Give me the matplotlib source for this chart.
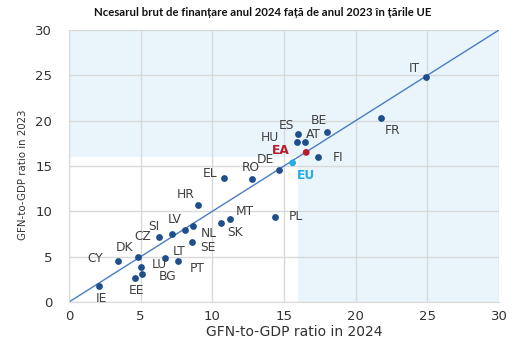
import matplotlib
matplotlib.use("Agg")
import matplotlib.pyplot as plt
from matplotlib.patches import Rectangle

countries = ["IE", "CY", "DK", "LU", "BG", "EE", "CZ", "SI", "LV", "LT", "PT",
             "NL", "SE", "HR", "MT", "SK", "EL", "RO", "PL", "DE", "FI",
             "ES", "HU", "AT", "BE", "FR", "IT"]
gfn_2024 = [2.1, 3.4, 4.8, 5.0, 5.1, 4.6, 6.3, 7.2, 8.1, 6.7, 7.6,
            8.65, 8.6, 9.0, 11.2, 10.6, 10.8, 12.8, 14.4, 14.65, 17.4,
            16.0, 15.9, 16.45, 18.0, 21.8, 24.9]
gfn_2023 = [1.8, 4.5, 5.0, 3.9, 3.1, 2.6, 7.2, 7.5, 7.9, 4.9, 4.5,
            8.35, 6.6, 10.7, 9.2, 8.7, 13.7, 13.6, 9.4, 14.55, 15.95,
            18.5, 17.7, 17.6, 18.75, 20.25, 24.85]
# label offsets in pixels (dx right, dy down)
label_dx = [2, -23, -13, 19, 25, 2, -17, -18, -10, 14, 19,
            16, 16, -12, 15, 14, -14, -2, 20, -14, 20,
            -12, -27, 9, -8, 11, -12]
label_dy = [13, -3, -9, -2, 3, 12, 0, -8, -11, -6, 7,
            7, 5, -10, -7, 9, -4, -11, 0, -11, 0,
            -9, -4, -8, -11, 12, -8]

agg_names = ["EA", "EU"]
agg_2024 = [16.55, 15.6]
agg_2023 = [16.5, 15.35]
agg_colors = ["#b81d2e", "#29abe2"]
agg_dx = [-25, 13]
agg_dy = [-2, 13]

fig = plt.figure(figsize=(5.25, 3.5), dpi=100)
ax = fig.add_axes([69/525, 48/350, 430/525, 272/350])
ax.set_xlim(0, 30)
ax.set_ylim(0, 30)

shade = "#eaf5fb"
ax.add_patch(Rectangle((0, 16), 30, 14, facecolor=shade, edgecolor="none", zorder=0))
ax.add_patch(Rectangle((16, 0), 14, 16, facecolor=shade, edgecolor="none", zorder=0))

ax.set_xticks([0, 5, 10, 15, 20, 25, 30])
ax.set_yticks([0, 5, 10, 15, 20, 25, 30])
ax.grid(True, color="#d9d9d9", linewidth=1, zorder=1)
ax.set_axisbelow(True)
for s in ["top", "right"]:
    ax.spines[s].set_visible(False)
for s in ["left", "bottom"]:
    ax.spines[s].set_color("#d9d9d9")
ax.tick_params(length=0, labelsize=9.5, colors="#333333")
ax.tick_params(axis="y", pad=12)
ax.tick_params(axis="x", pad=6)

ax.plot([0, 30], [0, 30], color="#4a7cc4", linewidth=1, zorder=2)

ax.scatter(gfn_2024, gfn_2023, s=24, color="#1f4e8c", zorder=3, linewidths=0)
for name, x, y, dx, dy in zip(countries, gfn_2024, gfn_2023, label_dx, label_dy):
    ax.annotate(name, (x, y), xytext=(dx*0.72, -dy*0.72), textcoords="offset points",
                ha="center", va="center", fontsize=8.8, color="#404040", zorder=4)

ax.scatter(agg_2024, agg_2023, s=24, color=agg_colors, zorder=3, linewidths=0)
for name, x, y, dx, dy, c in zip(agg_names, agg_2024, agg_2023, agg_dx, agg_dy, agg_colors):
    ax.annotate(name, (x, y), xytext=(dx*0.72, -dy*0.72), textcoords="offset points",
                ha="center", va="center", fontsize=8.8, color=c, fontweight="bold", zorder=4)

fig.text(294/525, 1 - 332/350, "GFN-to-GDP ratio in 2024", ha="center", va="center",
         fontsize=10, color="#333333")
fig.text(23/525, 1 - 175/350, "GFN-to-GDP ratio in 2023", rotation=90, ha="center",
         va="center", fontsize=8.2, color="#333333", family="DejaVu Sans", stretch="condensed")
fig.text(0.5, 1 - 12/350, "Ncesarul brut de finanțare anul 2024 față de anul 2023 în țările UE",
         ha="center", va="center", fontsize=8.2, fontweight="bold", color="#111111",
         family=["Lato", "DejaVu Sans"])

fig.savefig("out.png", dpi=100)
